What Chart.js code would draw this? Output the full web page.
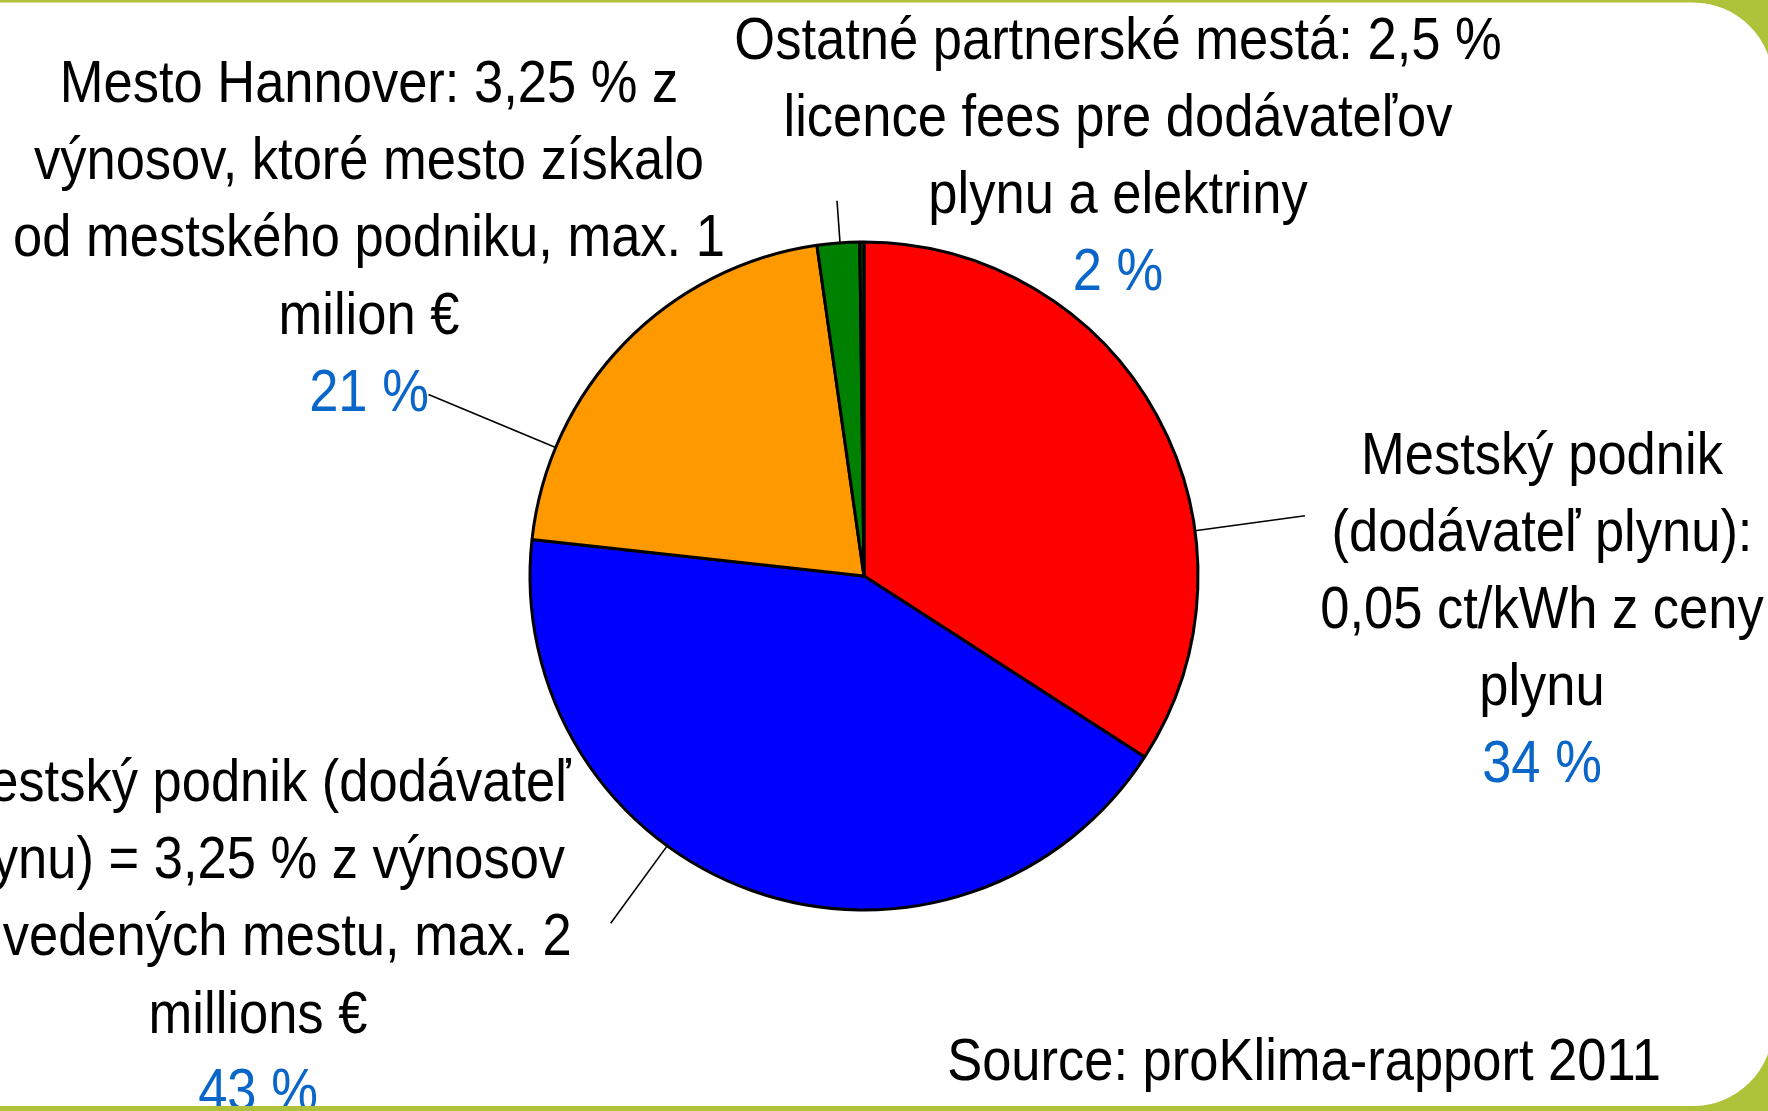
<!DOCTYPE html>
<html><head><meta charset="utf-8">
<script src="https://cdn.jsdelivr.net/npm/chart.js@4.4.1/dist/chart.umd.min.js"></script>
<style>html,body{margin:0;padding:0;background:#fff;overflow:hidden}canvas{display:block}</style>
</head><body>
<canvas id="c" width="1768" height="1111"></canvas>
<script>
// ---- data ----
const categories = [
  'Mestský podnik (dodávateľ plynu): 0,05 ct/kWh z ceny plynu',
  'Mestský podnik (dodávateľ plynu) = 3,25 % z výnosov odvedených mestu, max. 2 millions €',
  'Mesto Hannover: 3,25 % z výnosov, ktoré mesto získalo od mestského podniku, max. 1 milion €',
  'Ostatné partnerské mestá: 2,5 % licence fees pre dodávateľov plynu a elektriny',
  'Iné'
];
const values = [34.1, 42.6, 21.0, 2.05, 0.2];
const percentLabels = ['34 %', '43 %', '21 %', '2 %', ''];
const labelLines = [
  ['Mestský podnik', '(dodávateľ plynu):', '0,05 ct/kWh z ceny', 'plynu'],
  ['Mestský podnik (dodávateľ', 'plynu) = 3,25 % z výnosov', 'odvedených mestu, max. 2', 'millions €'],
  ['Mesto Hannover: 3,25 % z', 'výnosov, ktoré mesto získalo', 'od mestského podniku, max. 1', 'milion €'],
  ['Ostatné partnerské mestá: 2,5 %', 'licence fees pre dodávateľov', 'plynu a elektriny'],
  []
];
const sourceText = 'Source: proKlima-rapport 2011';
const sliceColors = ['#FF0000', '#0000FF', '#FF9900', '#008000', '#004d00'];

// ---- layout (positions only) ----
const labelLayout = [
  {cx: 1542, y0: 473.6, lead: [1305, 515.7]},
  {cx: 258,  y0: 801,   lead: [610.7, 923.3]},
  {cx: 369,  y0: 102,   lead: [428.5, 394.6]},
  {cx: 1118, y0: 58.6,  lead: [837, 200.7]},
  null
];
const LINE_H = 77.2;
const FONT_PX = 59;

function hasNarrow() {
  const c = document.createElement('canvas').getContext('2d');
  const s = 'Ostatné partnerské mestá 2011';
  c.font = '59px monospace';
  const a = c.measureText(s).width;
  c.font = '59px "Liberation Sans Narrow", monospace';
  const b = c.measureText(s).width;
  return Math.abs(a - b) > 1;
}
const NARROW = hasNarrow();
const FONT = NARROW ? `${FONT_PX}px "Liberation Sans Narrow"` : `${FONT_PX}px "Liberation Sans", Arial, sans-serif`;
const XSCALE = (NARROW ? 1 : 0.82) * 1.085;

function drawText(ctx, t, x, y, align) {
  ctx.save();
  ctx.translate(x, y);
  ctx.scale(XSCALE, 1);
  ctx.textAlign = align;
  ctx.textBaseline = 'alphabetic';
  ctx.fillText(t, 0, 0);
  ctx.restore();
}

const overlay = {
  id: 'overlay',
  afterDraw(chart) {
    const ctx = chart.ctx;
    const meta = chart.getDatasetMeta(0);
    ctx.save();
    ctx.font = FONT;
    meta.data.forEach((arc, i) => {
      const L = labelLayout[i];
      if (!L) return;
      const cx = arc.x, cy = arc.y, r = arc.outerRadius;
      const dx = L.lead[0] - cx, dy = L.lead[1] - cy;
      const d = Math.hypot(dx, dy);
      const sx = cx + r * dx / d, sy = cy + r * dy / d;
      ctx.strokeStyle = '#000';
      ctx.lineWidth = 1.6;
      ctx.beginPath();
      ctx.moveTo(sx, sy);
      ctx.lineTo(L.lead[0], L.lead[1]);
      ctx.stroke();
      ctx.fillStyle = '#000';
      const lines = labelLines[i];
      lines.forEach((t, k) => drawText(ctx, t, L.cx, L.y0 + k * LINE_H, 'center'));
      ctx.fillStyle = '#0a66c8';
      drawText(ctx, percentLabels[i], L.cx, L.y0 + lines.length * LINE_H, 'center');
    });
    ctx.fillStyle = '#000';
    drawText(ctx, sourceText, 1661, 1080, 'right');
    // slide frame
    const W = chart.width, H = chart.height;
    ctx.beginPath();
    ctx.rect(0, 0, W, H);
    ctx.roundRect(-200, 2.5, 1773 + 200, 1106 - 2.5, 80);
    ctx.fillStyle = '#b0c23a';
    ctx.fill('evenodd');
    ctx.restore();
  }
};

new Chart(document.getElementById('c'), {
  type: 'pie',
  data: {
    labels: categories,
    datasets: [{
      data: values,
      backgroundColor: sliceColors,
      borderColor: '#000',
      borderWidth: 3
    }]
  },
  options: {
    responsive: false,
    animation: false,
    radius: 334,
    layout: {padding: {left: 530, right: 570, top: 242, bottom: 201}},
    plugins: {legend: {display: false}, tooltip: {enabled: false}}
  },
  plugins: [overlay]
});
</script>
</body></html>
